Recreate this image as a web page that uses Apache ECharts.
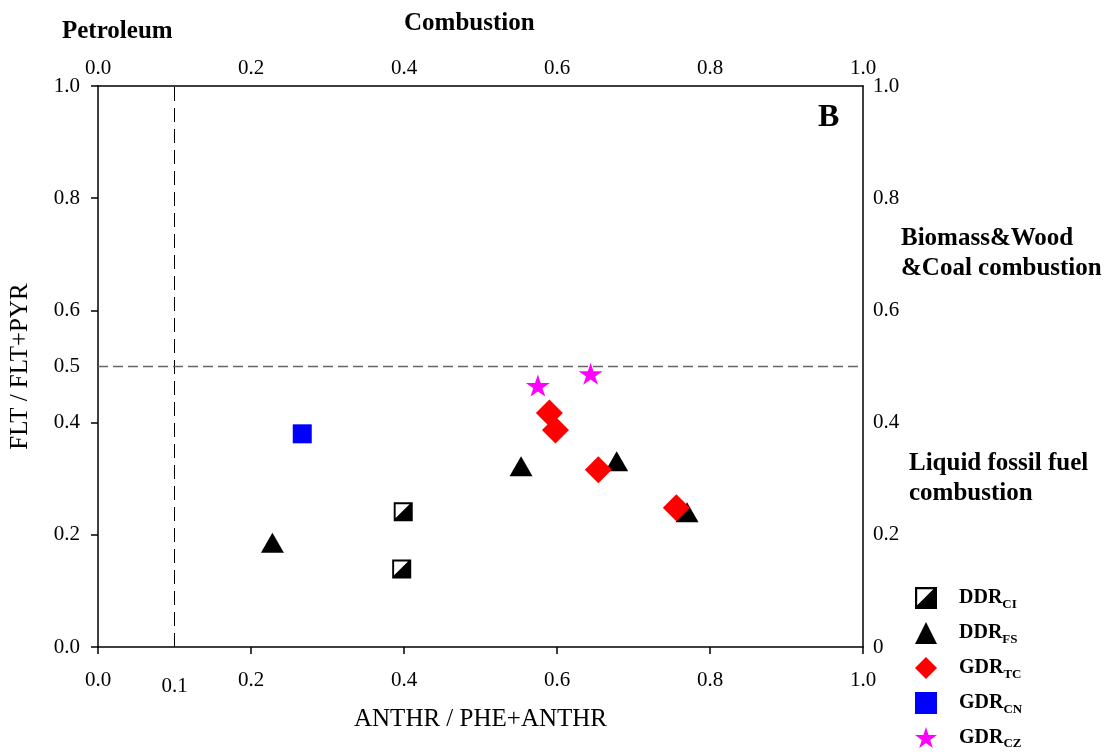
<!DOCTYPE html>
<html>
<head>
<meta charset="utf-8">
<script src="https://cdn.jsdelivr.net/npm/echarts@6/dist/echarts.min.js"></script>
<style>html,body{margin:0;padding:0;background:#fff;}#chart{width:1118px;height:756px;}</style>
</head>
<body>
<div id="chart"></div>
<script>
// ---- data ----
const seriesNames = ['DDR_CI', 'DDR_FS', 'GDR_TC', 'GDR_CN', 'GDR_CZ'];
const ddrCI = [[0.399, 0.241], [0.397, 0.139]];
const ddrFS = [[0.228, 0.186], [0.553, 0.322], [0.678, 0.331], [0.770, 0.240]];
const gdrTC = [[0.590, 0.417], [0.598, 0.387], [0.654, 0.316], [0.756, 0.248]];
const gdrCN = [[0.267, 0.380]];
const gdrCZ = [[0.575, 0.466], [0.644, 0.487]];
const refVertical = [[0.1, 0], [0.1, 1]];
const refHorizontal = [[0, 0.5], [1, 0.5]];
const bottomLabels = [0, 0.1, 0.2, 0.4, 0.6, 0.8, 1.0];
const bottomTicks = [0, 0.2, 0.4, 0.6, 0.8, 1.0];
const leftLabels = [0, 0.2, 0.4, 0.5, 0.6, 0.8, 1.0];
const leftTicks = [0, 0.2, 0.4, 0.6, 0.8, 1.0];
const sideLabels = [0, 0.2, 0.4, 0.6, 0.8, 1.0];

const FONT = '"Liberation Serif", "Times New Roman", serif';
const halfSquare = 'path://M0,0H20V20H0Z M2,2L2,16.6L16.6,2Z';
const star = 'path://M10,0L12.245,6.91L19.511,6.91L13.633,11.18L15.878,18.09L10,13.82L4.122,18.09L6.367,11.18L0.489,6.91L7.755,6.91Z';

const chart = echarts.init(document.getElementById('chart'));
const axisLineStyle = { color: '#000', width: 1.5 };
const lblStyle = { color: '#000', fontFamily: FONT, fontSize: 21 };

chart.setOption({
  backgroundColor: '#fff',
  animation: false,
  grid: { left: 98, right: 255, top: 86, bottom: 109, containLabel: false },
  xAxis: [
    {
      type: 'value', position: 'bottom', min: 0, max: 1,
      axisLine: { show: true, onZero: false, lineStyle: axisLineStyle },
      axisTick: { show: true, inside: false, length: 7, lineStyle: axisLineStyle, customValues: bottomTicks },
      axisLabel: Object.assign({}, lblStyle, {
        margin: 23, customValues: bottomLabels,
        formatter: v => Math.abs(v - 0.1) < 1e-9 ? '{low|0.1}' : v.toFixed(1),
        rich: { low: { fontFamily: FONT, fontSize: 21, color: '#000', padding: [6, 0, 0, 0] } }
      }),
      splitLine: { show: false },
      name: 'ANTHR / PHE+ANTHR', nameLocation: 'middle', nameGap: 60,
      nameTextStyle: { fontFamily: FONT, fontSize: 25, color: '#000' }
    },
    {
      type: 'value', position: 'top', min: 0, max: 1,
      axisLine: { show: true, onZero: false, lineStyle: axisLineStyle },
      axisTick: { show: false },
      axisLabel: Object.assign({}, lblStyle, { margin: 7, customValues: sideLabels, formatter: v => v.toFixed(1) }),
      splitLine: { show: false }
    }
  ],
  yAxis: [
    {
      type: 'value', position: 'left', min: 0, max: 1,
      axisLine: { show: true, onZero: false, lineStyle: axisLineStyle },
      axisTick: { show: true, inside: false, length: 7, lineStyle: axisLineStyle, customValues: leftTicks },
      axisLabel: Object.assign({}, lblStyle, { margin: 18, customValues: leftLabels, formatter: v => v.toFixed(1) }),
      splitLine: { show: false },
      name: 'FLT / FLT+PYR', nameLocation: 'middle', nameGap: 65,
      nameTextStyle: { fontFamily: FONT, fontSize: 25, color: '#000' }
    },
    {
      type: 'value', position: 'right', min: 0, max: 1,
      axisLine: { show: true, onZero: false, lineStyle: axisLineStyle },
      axisTick: { show: false },
      axisLabel: Object.assign({}, lblStyle, { margin: 10, customValues: sideLabels, formatter: v => v === 0 ? '0' : v.toFixed(1) }),
      splitLine: { show: false }
    }
  ],
  legend: {
    orient: 'vertical', left: 910, top: 582,
    itemWidth: 22, itemHeight: 22, itemGap: 11,
    data: seriesNames,
    formatter: n => { const p = n.split('_'); return '{m|' + p[0] + '}{s|' + p[1] + '}'; },
    textStyle: {
      padding: [0, 0, 0, 17],
      rich: {
        m: { fontFamily: FONT, fontSize: 20, fontWeight: 'bold', color: '#000' },
        s: { fontFamily: FONT, fontSize: 13, fontWeight: 'bold', color: '#000', padding: [13, 0, 0, 0] }
      }
    }
  },
  graphic: [
    { type: 'text', left: 62, top: 19, style: { text: 'Petroleum', font: 'bold 25px ' + FONT, fill: '#000' } },
    { type: 'text', left: 404, top: 11, style: { text: 'Combustion', font: 'bold 25px ' + FONT, fill: '#000' } },
    { type: 'text', left: 818, top: 102, style: { text: 'B', font: 'bold 32px ' + FONT, fill: '#000' } },
    { type: 'text', left: 901, top: 224, style: { text: 'Biomass&Wood\n&Coal combustion', font: 'bold 25px ' + FONT, fill: '#000', lineHeight: 30 } },
    { type: 'text', left: 909, top: 449, style: { text: 'Liquid fossil fuel\ncombustion', font: 'bold 25px ' + FONT, fill: '#000', lineHeight: 30 } }
  ],
  series: [
    { type: 'line', data: refVertical, symbol: 'none', silent: true, z: 1,
      lineStyle: { color: '#000', width: 1, type: [14, 7] } },
    { type: 'line', data: refHorizontal, symbol: 'none', silent: true, z: 1,
      lineStyle: { color: '#666', width: 1.5, type: [10, 5] } },
    { name: 'DDR_CI', type: 'scatter', data: ddrCI, symbol: halfSquare, symbolSize: 19,
      itemStyle: { color: '#000', opacity: 1 } },
    { name: 'DDR_FS', type: 'scatter', data: ddrFS, symbol: 'triangle', symbolSize: [23, 20],
      itemStyle: { color: '#000', opacity: 1 } },
    { name: 'GDR_TC', type: 'scatter', data: gdrTC, symbol: 'diamond', symbolSize: 27,
      itemStyle: { color: '#FF0000', opacity: 1 } },
    { name: 'GDR_CN', type: 'scatter', data: gdrCN, symbol: 'rect', symbolSize: 19,
      itemStyle: { color: '#0000FF', opacity: 1 } },
    { name: 'GDR_CZ', type: 'scatter', data: gdrCZ, symbol: star, symbolSize: [24, 22],
      itemStyle: { color: '#FF00FF', opacity: 1 } }
  ]
});
</script>
</body>
</html>
